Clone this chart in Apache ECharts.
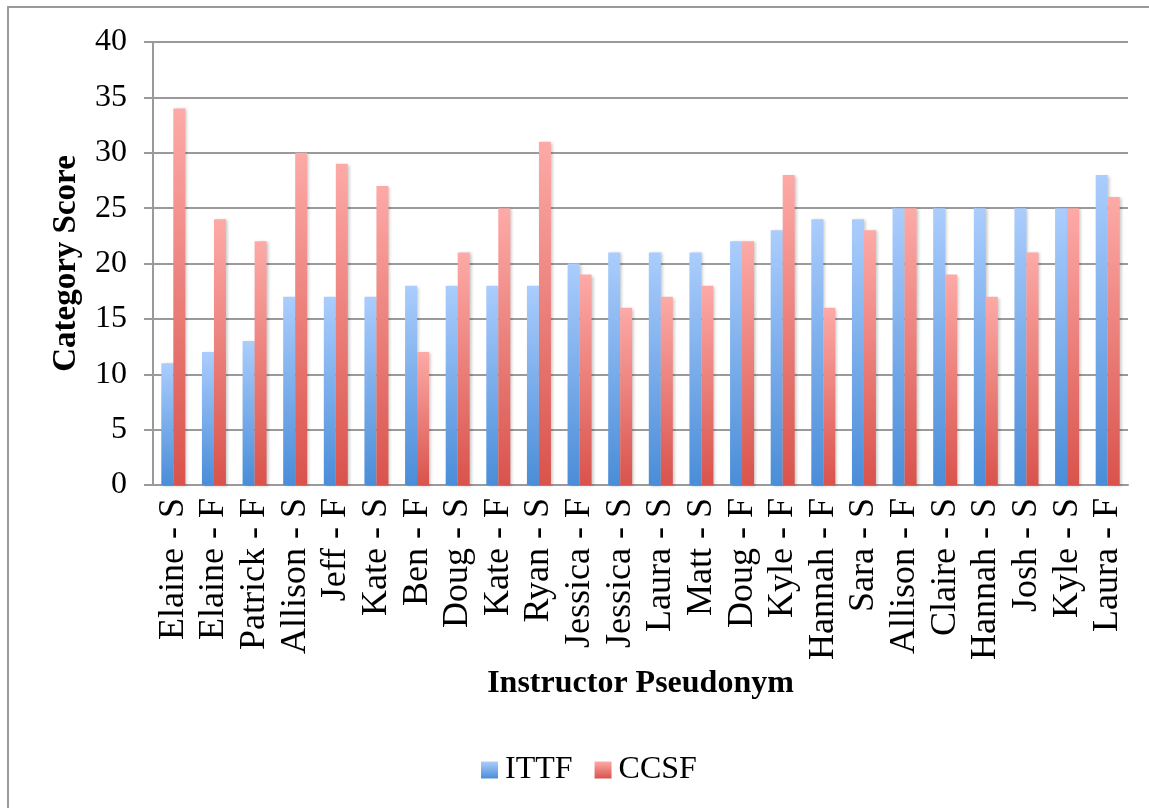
<!DOCTYPE html>
<html>
<head>
<meta charset="utf-8">
<script src="https://cdn.jsdelivr.net/npm/echarts@6/dist/echarts.min.js"></script>
<style>
  html, body { margin: 0; padding: 0; background: #fff; }
  #main { width: 1149px; height: 808px; }
</style>
</head>
<body>
<div id="main"></div>
<script>
// instructor categories
var categories = ["Elaine - S", "Elaine - F", "Patrick - F", "Allison - S", "Jeff - F", "Kate - S",
  "Ben - F", "Doug - S", "Kate - F", "Ryan - S", "Jessica - F", "Jessica - S", "Laura - S",
  "Matt - S", "Doug - F", "Kyle - F", "Hannah - F", "Sara - S", "Allison - F", "Claire - S",
  "Hannah - S", "Josh - S", "Kyle - S", "Laura - F"];
var ittf = [11, 12, 13, 17, 17, 17, 18, 18, 18, 18, 20, 21, 21, 21, 22, 23, 24, 24, 25, 25, 25, 25, 25, 28];
var ccsf = [34, 24, 22, 30, 29, 27, 12, 21, 25, 31, 19, 16, 17, 18, 22, 28, 16, 23, 25, 19, 17, 21, 25, 26];
var yTicks = { min: 0, max: 40, step: 5 };

var serif = "Liberation Serif";
var gray = "#9a9a9a";

function grad(top, bottom) {
  return new echarts.graphic.LinearGradient(0, 0, 0, 1, [
    { offset: 0, color: top },
    { offset: 1, color: bottom }
  ]);
}

var chart = echarts.init(document.getElementById("main"));
chart.setOption({
  animation: false,
  graphic: [{
    type: "rect",
    shape: { x: 8, y: 7, width: 1160, height: 820 },
    style: { fill: "none", stroke: gray, lineWidth: 2 }
  }],
  grid: { left: 153, right: 21, top: 42, bottom: 323, containLabel: false },
  legend: {
    top: 749,
    left: 476,
    icon: "rect",
    itemWidth: 17,
    itemHeight: 17,
    itemGap: 22,
    textStyle: { fontFamily: serif, fontSize: 32, color: "#000", padding: [0, 0, 0, 2] },
    data: ["ITTF", "CCSF"]
  },
  xAxis: {
    type: "category",
    data: categories,
    name: "Instructor Pseudonym",
    nameLocation: "middle",
    nameGap: 178,
    nameTextStyle: { fontFamily: serif, fontSize: 32, fontWeight: "bold", color: "#000" },
    axisLine: { lineStyle: { color: gray, width: 2 } },
    axisTick: { length: 10, lineStyle: { color: gray, width: 2 } },
    axisLabel: { rotate: 90, margin: 13, fontFamily: serif, fontSize: 36, color: "#000", interval: 0 }
  },
  yAxis: {
    type: "value",
    min: yTicks.min,
    max: yTicks.max,
    interval: yTicks.step,
    name: "Category Score",
    nameLocation: "middle",
    nameRotate: 90,
    nameGap: 70,
    nameTextStyle: { fontFamily: serif, fontSize: 33, fontWeight: "bold", color: "#000" },
    axisLine: { show: true, lineStyle: { color: gray, width: 2 } },
    axisTick: { show: true, length: 9, lineStyle: { color: gray, width: 2 } },
    axisLabel: { margin: 26, fontFamily: serif, fontSize: 32, color: "#000" },
    splitLine: { lineStyle: { color: gray, width: 2 } }
  },
  series: [
    {
      name: "ITTF",
      type: "bar",
      data: ittf,
      barWidth: 12,
      barGap: "0%",
      itemStyle: {
        color: grad("#abcdfd", "#4a8dd8"),
        shadowColor: "rgba(0,0,0,0.22)",
        shadowBlur: 3,
        shadowOffsetX: 2,
        shadowOffsetY: 1
      }
    },
    {
      name: "CCSF",
      type: "bar",
      data: ccsf,
      barWidth: 12,
      barGap: "0%",
      itemStyle: {
        color: grad("#fdaaa7", "#d9534c"),
        shadowColor: "rgba(0,0,0,0.22)",
        shadowBlur: 3,
        shadowOffsetX: 2,
        shadowOffsetY: 1
      }
    }
  ]
});
</script>
</body>
</html>
